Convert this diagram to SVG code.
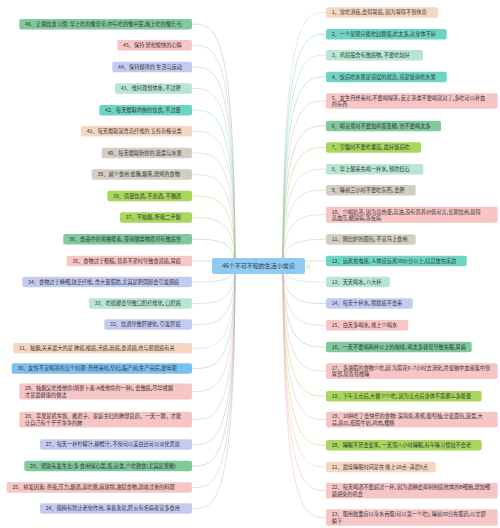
<svg xmlns="http://www.w3.org/2000/svg" width="500" height="528" viewBox="0 0 500 528">
<style>
text{font-family:"Noto Sans CJK SC","Noto Sans",sans-serif;font-size:5.2px;fill:#333}
.c text{font-size:6px}
.ln{fill:none;stroke-width:0.8;opacity:0.55}
.g{fill:#80c99c}.p{fill:#f7c5c5}.l{fill:#c3cbf2}.m{fill:#b7e6d3}.t{fill:#6dd5c5}.k{fill:#f5d6c1}.b{fill:#d3cdc4}.y{fill:#a8d75c}.u{fill:#7cc0f2}
.sg{stroke:#80c99c}.sp{stroke:#f2a9a9}.sl{stroke:#aab5ea}.sm{stroke:#9fd9c2}.st{stroke:#6dd5c5}.sk{stroke:#eec3a6}.sb{stroke:#c6bfb4}.sy{stroke:#a8d75c}.su{stroke:#7cc0f2}
</style>
<rect width="500" height="528" fill="#ffffff"/>
<g id="connectors">
<path class="ln sg" d="M235 266 C235 24.2 215 24.2 192 24.2"/>
<path class="ln sp" d="M235 266 C235 45.2 215 45.2 192 45.2"/>
<path class="ln sl" d="M235 266 C235 67 215 67 192 67"/>
<path class="ln sm" d="M235 266 C235 88.5 215 88.5 192 88.5"/>
<path class="ln st" d="M235 266 C235 110.2 215 110.2 192 110.2"/>
<path class="ln sk" d="M235 266 C235 131.3 215 131.3 192 131.3"/>
<path class="ln sb" d="M235 266 C235 153 215 153 192 153"/>
<path class="ln sb" d="M235 266 C235 174.6 215 174.6 192 174.6"/>
<path class="ln sy" d="M235 266 C235 196 215 196 192 196"/>
<path class="ln sy" d="M235 266 C235 217.6 215 217.6 192 217.6"/>
<path class="ln sg" d="M235 266 C235 239.2 215 239.2 192 239.2"/>
<path class="ln sp" d="M235 266 C235 261 215 261 192 261"/>
<path class="ln sl" d="M235 266 C235 282 215 282 192 282"/>
<path class="ln sm" d="M235 266 C235 303.6 215 303.6 192 303.6"/>
<path class="ln sl" d="M235 266 C235 324.6 215 324.6 192 324.6"/>
<path class="ln sk" d="M235 266 C235 348.3 215 348.3 192 348.3"/>
<path class="ln su" d="M235 266 C235 368.5 215 368.5 192 368.5"/>
<path class="ln sp" d="M235 266 C235 391.5 215 391.5 192 391.5"/>
<path class="ln sp" d="M235 266 C235 419.5 215 419.5 192 419.5"/>
<path class="ln sl" d="M235 266 C235 444.6 215 444.6 192 444.6"/>
<path class="ln sg" d="M235 266 C235 466 215 466 192 466"/>
<path class="ln sp" d="M235 266 C235 487.5 215 487.5 192 487.5"/>
<path class="ln sl" d="M235 266 C235 508.6 215 508.6 192 508.6"/>
<path class="ln sk" d="M283 266 C283 12.5 305 12.5 326 12.5"/>
<path class="ln st" d="M283 266 C283 34.2 305 34.2 326 34.2"/>
<path class="ln sm" d="M283 266 C283 55.3 305 55.3 326 55.3"/>
<path class="ln st" d="M283 266 C283 77 305 77 326 77"/>
<path class="ln sp" d="M283 266 C283 101 305 101 326 101"/>
<path class="ln sg" d="M283 266 C283 126 305 126 326 126"/>
<path class="ln sy" d="M283 266 C283 147.5 305 147.5 326 147.5"/>
<path class="ln sm" d="M283 266 C283 169.2 305 169.2 326 169.2"/>
<path class="ln sb" d="M283 266 C283 190.3 305 190.3 326 190.3"/>
<path class="ln sp" d="M283 266 C283 214.7 305 214.7 326 214.7"/>
<path class="ln sb" d="M283 266 C283 239.5 305 239.5 326 239.5"/>
<path class="ln st" d="M283 266 C283 261 305 261 326 261"/>
<path class="ln sm" d="M283 266 C283 282 305 282 326 282"/>
<path class="ln sl" d="M283 266 C283 303.5 305 303.5 326 303.5"/>
<path class="ln sp" d="M283 266 C283 325.2 305 325.2 326 325.2"/>
<path class="ln sg" d="M283 266 C283 347 305 347 326 347"/>
<path class="ln sp" d="M283 266 C283 371.2 305 371.2 326 371.2"/>
<path class="ln sy" d="M283 266 C283 396.2 305 396.2 326 396.2"/>
<path class="ln sp" d="M283 266 C283 419.5 305 419.5 326 419.5"/>
<path class="ln sy" d="M283 266 C283 445.2 305 445.2 326 445.2"/>
<path class="ln sk" d="M283 266 C283 466.9 305 466.9 326 466.9"/>
<path class="ln sp" d="M283 266 C283 490.5 305 490.5 326 490.5"/>
<path class="ln sp" d="M283 266 C283 517.6 305 517.6 326 517.6"/>
</g>
<g id="center" class="c">
<rect x="212" y="258" width="93" height="16" rx="2" fill="#8fcaf3"/>
<text x="258.5" y="268.2" text-anchor="middle">46个不可不知的生活小常识</text>
<circle cx="308" cy="266.5" r="2" fill="#f4f0d2" stroke="#e2dcb4" stroke-width="0.5"/>
</g>
<g id="n46"><rect class="g" x="19.3" y="19" width="172.7" height="10.5" rx="2"/><text x="25" y="26.1">46、正确饮食习惯: 早上吃的像皇帝,中午吃的像平民,晚上吃的像乞丐</text></g>
<g id="n45"><rect class="p" x="117.3" y="40" width="74.7" height="10.5" rx="2"/><text x="123" y="47.1">45、保持 轻松愉快的心情</text></g>
<g id="n44"><rect class="l" x="112.3" y="61.7" width="79.7" height="10.5" rx="2"/><text x="118" y="68.8">44、保持规律的 生活与运动</text></g>
<g id="n43"><rect class="m" x="115" y="83.3" width="77" height="10.5" rx="2"/><text x="120.7" y="90.4">43、维持理想体重, 不过胖</text></g>
<g id="n42"><rect class="t" x="99.3" y="105" width="92.7" height="10.5" rx="2"/><text x="105" y="112.1">42、每天摄取均衡的饮食, 不过量</text></g>
<g id="n41"><rect class="k" x="81" y="126" width="111" height="10.5" rx="2"/><text x="86.7" y="133.1">41、每天摄取富含高纤维的 五谷杂粮豆类</text></g>
<g id="n40"><rect class="b" x="101.7" y="147.7" width="90.3" height="10.5" rx="2"/><text x="107.4" y="154.8">40、每天摄取新鲜的 蔬菜与水果</text></g>
<g id="n39"><rect class="b" x="91.7" y="169.3" width="100.3" height="10.5" rx="2"/><text x="97.4" y="176.4">39、减少食用 盐腌,烟熏,烧烤的食物</text></g>
<g id="n38"><rect class="y" x="107.3" y="190.7" width="84.7" height="10.5" rx="2"/><text x="113" y="197.8">38、适量饮酒, 不劝酒, 不酗酒</text></g>
<g id="n37"><rect class="y" x="120" y="212.3" width="72" height="10.5" rx="2"/><text x="125.7" y="219.4">37、不抽烟, 拒吸二手烟</text></g>
<g id="n36"><rect class="g" x="63.3" y="234" width="128.7" height="10.5" rx="2"/><text x="69" y="241.1">36、食品中的黄曲霉素, 亚硝酸类物质具有致癌性</text></g>
<g id="n35"><rect class="p" x="66.7" y="255.7" width="125.3" height="10.5" rx="2"/><text x="72.4" y="262.8">35、食物过于粗糙, 营养不足时导致食道癌,胃癌</text></g>
<g id="n34"><rect class="l" x="22.3" y="276.7" width="169.7" height="10.5" rx="2"/><text x="28" y="283.8">34、食物过于精细,缺乏纤维, 含大量脂肪,尤其是胆固醇会引发肠癌</text></g>
<g id="n33"><rect class="m" x="89" y="298.3" width="103" height="10.5" rx="2"/><text x="94.7" y="305.4">33、吃槟榔会导致口腔纤维化, 口腔癌</text></g>
<g id="n32"><rect class="l" x="104.3" y="319.3" width="87.7" height="10.5" rx="2"/><text x="110" y="326.4">32、饮酒导致肝硬化, 引发肝癌</text></g>
<g id="n31"><rect class="k" x="13.3" y="343" width="178.7" height="10.5" rx="2"/><text x="19" y="350.1">31、抽烟,关系最大的是 肺癌,喉癌,舌癌,唇癌,食道癌,也与膀胱癌有关</text></g>
<g id="n30"><rect class="u" x="11.7" y="363.3" width="180.3" height="10.5" rx="2"/><text x="17.4" y="370.4">30、女性不宜喝茶的五个时期: 月经来时,孕妇,临产前,生产完后,更年期</text></g>
<g id="n29"><rect class="p" x="19.3" y="383.5" width="172.7" height="16" rx="2"/><text x="25" y="390.3">29、抽烟又吃维他命(胡萝卜素-A维他命的一种), 会致癌,尽早戒烟</text><text x="25" y="396.6">才是最健康的做法</text></g>
<g id="n28"><rect class="p" x="19.3" y="411.7" width="172.7" height="15.7" rx="2"/><text x="25" y="418.4">28、苹果是机车族、瘾君子、家庭主妇的肺部良药，一天一颗，才能</text><text x="25" y="424.7">让自己有个干干净净的肺</text></g>
<g id="n27"><rect class="l" x="40" y="439.3" width="152" height="10.5" rx="2"/><text x="45.7" y="446.4">27、每天一杯柠檬汁,柳橙汁, 不但可以美白还可以淡化黑斑</text></g>
<g id="n26"><rect class="g" x="24.3" y="460.7" width="167.7" height="10.5" rx="2"/><text x="30" y="467.8">26、帮助头发生长:多 食用绿心菜,蛋,豆类,少吃甜食(尤其是果糖)</text></g>
<g id="n25"><rect class="p" x="6.7" y="482.3" width="185.3" height="10.5" rx="2"/><text x="12.4" y="489.4">25、掉发因素: 熬夜,压力,烟酒,喜吃甜,麻辣锅,油腻食物,调味过重的料理</text></g>
<g id="n24"><rect class="l" x="40" y="503.3" width="152" height="10.5" rx="2"/><text x="45.7" y="510.4">24、醋梅有防止老化作用, 青春永驻,肝火有毛病者宜多食用</text></g>
<g id="n1"><rect class="k" x="326" y="7.3" width="112" height="10.5" rx="2"/><text x="331.7" y="14.4">1、常吃消夜,会得胃癌, 因为胃得不到休息</text></g>
<g id="n2"><rect class="t" x="326" y="29" width="120.7" height="10.5" rx="2"/><text x="331.7" y="36.1">2、一个星期只能吃四颗蛋,吃太多,对身体不好</text></g>
<g id="n3"><rect class="m" x="326" y="50" width="97" height="10.5" rx="2"/><text x="331.7" y="57.1">3、鸡屁股含有致癌物, 不要吃较好</text></g>
<g id="n4"><rect class="t" x="326" y="71.7" width="120.7" height="10.5" rx="2"/><text x="331.7" y="78.8">4、饭后吃水果是错误的观念, 应是饭前吃水果</text></g>
<g id="n5"><rect class="p" x="326" y="93.3" width="171.7" height="15.5" rx="2"/><text x="331.7" y="100">5、女生月经来时,不要喝绿茶, 反正茶类不要喝就对了,多吃可以补血</text><text x="331.7" y="106.3">的东西</text></g>
<g id="n6"><rect class="g" x="326" y="120.7" width="115" height="10.5" rx="2"/><text x="331.7" y="127.8">6、喝豆浆时不要加鸡蛋及糖, 也不要喝太多</text></g>
<g id="n7"><rect class="y" x="326" y="142.3" width="95" height="10.5" rx="2"/><text x="331.7" y="149.4">7、空腹时不要吃蕃茄, 最好饭后吃</text></g>
<g id="n8"><rect class="m" x="326" y="164" width="97.3" height="10.5" rx="2"/><text x="331.7" y="171.1">8、早上醒来先喝一杯水, 预防结石</text></g>
<g id="n9"><rect class="b" x="326" y="185" width="89.7" height="10.5" rx="2"/><text x="331.7" y="192.1">9、睡前三小时不要吃东西, 会胖</text></g>
<g id="n10"><rect class="p" x="326" y="206.7" width="171.7" height="16" rx="2"/><text x="331.7" y="213.5">10、少喝奶茶, 因为高热量,高油,没有营养价值可言,长期饮用,易得</text><text x="331.7" y="219.8">高血压,糖尿病,等疾病</text></g>
<g id="n11"><rect class="b" x="326" y="234.3" width="89.7" height="10.5" rx="2"/><text x="331.7" y="241.4">11、刚出炉的面包, 不宜马上食用</text></g>
<g id="n12"><rect class="t" x="326" y="255.7" width="140.7" height="10.5" rx="2"/><text x="331.7" y="262.8">12、远离充电座, 人体应远离30公分以上,切忌放在床边</text></g>
<g id="n13"><rect class="m" x="326" y="276.7" width="64" height="10.5" rx="2"/><text x="331.7" y="283.8">13、天天喝水, 八大杯</text></g>
<g id="n14"><rect class="l" x="326" y="298.3" width="86.7" height="10.5" rx="2"/><text x="331.7" y="305.4">14、每天十杯水, 膀胱癌不会来</text></g>
<g id="n15"><rect class="p" x="326" y="320" width="82.3" height="10.5" rx="2"/><text x="331.7" y="327.1">15、白天多喝水, 晚上少喝水</text></g>
<g id="n16"><rect class="g" x="326" y="341.7" width="145.7" height="10.5" rx="2"/><text x="331.7" y="348.8">16、一天不要喝两杯以上的咖啡, 喝太多容易导致失眠,胃痛</text></g>
<g id="n17"><rect class="p" x="326" y="363.3" width="171.7" height="15.7" rx="2"/><text x="331.7" y="370">17、多油脂的食物少吃,因 为需花6~7小时去消化,并使脑中血液集中到</text><text x="331.7" y="376.3">胃部,易昏昏欲睡</text></g>
<g id="n18"><rect class="y" x="326" y="391" width="155.7" height="10.5" rx="2"/><text x="331.7" y="398.1">18、下午五点后,大餐少少吃, 因为五点后身体不需那么多能量</text></g>
<g id="n19"><rect class="p" x="326" y="411.7" width="171.7" height="15.7" rx="2"/><text x="331.7" y="418.4">19、10种吃了会快乐的食物: 深海鱼,香蕉,葡萄柚,全麦面包,菠菜,大</text><text x="331.7" y="424.7">蒜,南瓜,低脂牛奶,鸡肉,樱桃</text></g>
<g id="n20"><rect class="y" x="326" y="440" width="155.7" height="10.5" rx="2"/><text x="331.7" y="447.1">20、睡眠不足会变笨, 一天须八小时睡眠,有午睡习惯较不会老</text></g>
<g id="n21"><rect class="k" x="326" y="461.7" width="109.7" height="10.5" rx="2"/><text x="331.7" y="468.8">21、最佳睡眠时间是在 晚上10点~清晨6点</text></g>
<g id="n22"><rect class="p" x="326" y="482.7" width="171.7" height="15.7" rx="2"/><text x="331.7" y="489.4">22、每天喝酒不要超过一杯, 因为酒精会抑制制造抗体的B细胞,增加细</text><text x="331.7" y="495.7">菌感染的机会</text></g>
<g id="n23"><rect class="p" x="326" y="509.3" width="171.7" height="16.5" rx="2"/><text x="331.7" y="516.2">23、服用胶囊应以冷水吞服(可以第一个吃), 睡前30分先服药,以立即</text><text x="331.7" y="522.5">躺下</text></g>
</svg>
